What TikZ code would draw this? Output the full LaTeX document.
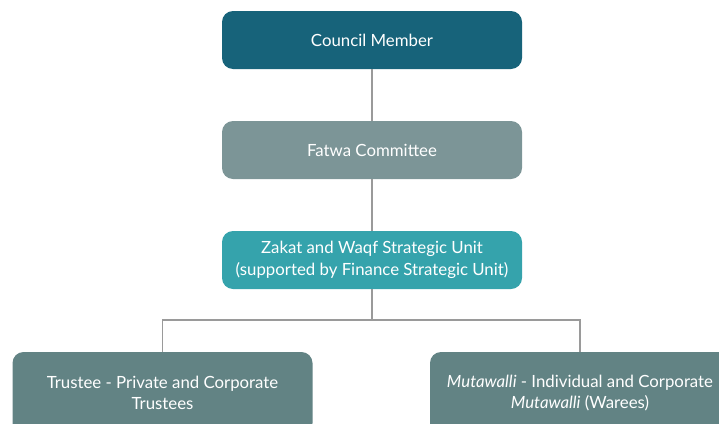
\documentclass[tikz,border=0pt]{standalone}
\usepackage{fontspec}
\setmainfont{Lato}
\definecolor{councilc}{HTML}{17637A}
\definecolor{fatwac}{HTML}{7C9597}
\definecolor{unitc}{HTML}{35A3AC}
\definecolor{leafc}{HTML}{628384}
\definecolor{linkc}{HTML}{9A9A9A}
\begin{document}
\begin{tikzpicture}[
        x=1pt, y=-1pt,
        every node/.style={rounded corners=11pt, text=white, align=center,
            minimum width=300pt, minimum height=58pt, inner sep=0pt,
            font=\fontsize{16.8}{21.5}\selectfont},
        councilbox/.style={fill=councilc},
        fatwabox/.style={fill=fatwac},
        unitbox/.style={fill=unitc},
        leafbox/.style={fill=leafc, minimum height=82pt},
        link/.style={draw=linkc, line width=1.2pt},
    ]
    \useasboundingbox (0,0) rectangle (719,423);
    \clip (0,0) rectangle (719,423);
    \node[councilbox](council) at (372,40){Council Member};
    \node[fatwabox](fatwa) at (372,150){Fatwa Committee};
    \node[unitbox](unit) at (372,260){Zakat and Waqf Strategic Unit\\(supported by Finance Strategic Unit)};
    \node[leafbox](trustee) at (162.5,393){Trustee - Private and Corporate\\Trustees};
    \node[leafbox](mutawalli) at (580,393){\textit{Mutawalli} - Individual and Corporate\\\textit{Mutawalli} (Warees)};
    \coordinate (split) at (372,320);
    \draw[link] (council) -- (fatwa);
    \draw[link] (fatwa) -- (unit);
    \draw[link] (unit) -- (split);
    \draw[link] (split) -| (trustee);
    \draw[link] (split) -| (mutawalli);
\end{tikzpicture}
\end{document}
